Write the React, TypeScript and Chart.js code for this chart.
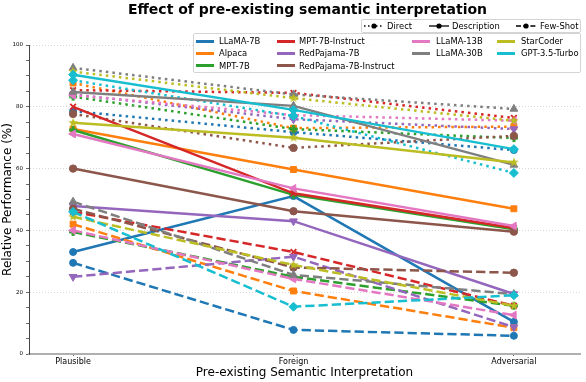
import React, { useEffect, useRef } from 'react';
import { Chart, registerables } from 'chart.js';

Chart.register(...registerables);

const FONT = "'DejaVu Sans', sans-serif";

const conditions = ['Plausible', 'Foreign', 'Adversarial'];
const models = [
  'LLaMA-7B', 'Alpaca', 'MPT-7B', 'MPT-7B-Instruct', 'RedPajama-7B',
  'RedPajama-7B-Instruct', 'LLaMA-13B', 'LLaMA-30B', 'StarCoder', 'GPT-3.5-Turbo',
];
const modelColors = [
  '#1f77b4', '#ff7f0e', '#2ca02c', '#d62728', '#9467bd',
  '#8c564b', '#e377c2', '#7f7f7f', '#bcbd22', '#17becf',
];
const promptStyles = ['Direct', 'Description', 'Few-Shot'];

// values per model: [Plausible, Foreign, Adversarial]
const directScores = [
  [78.6, 71.8, 66.0],
  [87.7, 73.1, 73.6],
  [83.3, 72.8, 69.9],
  [85.4, 84.5, 76.4],
  [84.0, 76.0, 72.8],
  [77.7, 66.7, 70.6],
  [83.8, 77.3, 75.5],
  [92.6, 84.0, 79.3],
  [91.4, 82.8, 75.5],
  [88.6, 77.0, 58.6],
];
const descriptionScores = [
  [33.0, 51.1, 10.4],
  [72.8, 59.7, 47.0],
  [72.5, 51.5, 40.4],
  [80.0, 52.0, 40.8],
  [47.9, 43.0, 19.4],
  [60.0, 46.2, 39.6],
  [71.2, 53.6, 41.4],
  [84.8, 80.3, 61.2],
  [74.8, 70.0, 62.0],
  [90.4, 79.0, 66.3],
];
const fewShotScores = [
  [29.5, 7.8, 5.9],
  [42.0, 20.4, 8.5],
  [39.5, 25.0, 15.6],
  [46.0, 33.0, 15.6],
  [25.0, 31.5, 8.7],
  [47.0, 28.0, 26.3],
  [40.0, 24.3, 12.6],
  [49.3, 25.6, 19.4],
  [44.4, 28.8, 15.6],
  [46.0, 15.3, 19.0],
];
const yTickLabels = [0, 20, 40, 60, 80, 100];

function makeStar(color: string, r: number) {
  const size = Math.ceil(r * 2 + 2);
  const c = document.createElement('canvas');
  c.width = size; c.height = size;
  const ctx = c.getContext('2d')!;
  ctx.fillStyle = color;
  ctx.beginPath();
  for (let k = 0; k < 10; k++) {
    const rr = k % 2 === 0 ? r : r * 0.42;
    const a = -Math.PI / 2 + (k * Math.PI) / 5;
    ctx.lineTo(size / 2 + rr * Math.cos(a), size / 2 + rr * Math.sin(a));
  }
  ctx.closePath();
  ctx.fill();
  return c;
}

function makePlus(color: string, r: number) {
  const size = Math.ceil(r * 2 + 2);
  const c = document.createElement('canvas');
  c.width = size; c.height = size;
  const ctx = c.getContext('2d')!;
  ctx.fillStyle = color;
  const t = r * 0.75;
  const m = size / 2;
  ctx.fillRect(m - r, m - t / 2, 2 * r, t);
  ctx.fillRect(m - t / 2, m - r, t, 2 * r);
  return c;
}

function markerFor(mi: number, color: string) {
  switch (mi) {
    case 0: return { style: 'circle', rotation: 0, radius: 3.5, bw: 1 };
    case 1: return { style: 'rect', rotation: 0, radius: 4.2, bw: 1 };
    case 2: return { style: makePlus(color, 4), rotation: 0, radius: 4, bw: 1 };
    case 3: return { style: 'crossRot', rotation: 0, radius: 4, bw: 1.8 };
    case 4: return { style: 'triangle', rotation: 180, radius: 4.5, bw: 1 };
    case 5: return { style: 'circle', rotation: 0, radius: 3.7, bw: 1 };
    case 6: return { style: 'triangle', rotation: 270, radius: 4.5, bw: 1 };
    case 7: return { style: 'triangle', rotation: 0, radius: 4.5, bw: 1 };
    case 8: return { style: makeStar(color, 5), rotation: 0, radius: 5, bw: 1 };
    default: return { style: 'rectRot', rotation: 0, radius: 4.5, bw: 1 };
  }
}

const dashPatterns = [[2.5, 4.1], [], [9.25, 4]];
const legendDash = ['1.5,2.5', '', '5,2.2'];

export default function App() {
  const ref = useRef<HTMLCanvasElement>(null);

  useEffect(() => {
    const canvas = ref.current!;
    const allScores = [directScores, descriptionScores, fewShotScores];
    const datasets: any[] = [];
    allScores.forEach((scores, si) => {
      models.forEach((m, mi) => {
        const color = modelColors[mi];
        const mk = markerFor(mi, color);
        datasets.push({
          label: `${m} (${promptStyles[si]})`,
          data: scores[mi].map((v, i) => ({ x: i, y: v })),
          borderColor: color,
          backgroundColor: color,
          borderWidth: 2.5,
          borderDash: dashPatterns[si],
          borderCapStyle: 'butt',
          pointStyle: mk.style,
          pointRotation: mk.rotation,
          pointRadius: mk.radius,
          pointBorderWidth: mk.bw,
          pointBackgroundColor: color,
          pointBorderColor: color,
          tension: 0,
          fill: false,
        });
      });
    });
    const n = datasets.length;
    datasets.forEach((d, i) => { d.order = n - i; });

    const chart = new Chart(canvas, {
      type: 'line',
      data: { datasets },
      options: {
        animation: false,
        responsive: false,
        devicePixelRatio: 1,
        layout: { padding: { top: 45, right: 0, bottom: 0, left: 0 } },
        plugins: {
          legend: { display: false },
          tooltip: { enabled: false },
          title: { display: false },
        },
        scales: {
          x: {
            type: 'linear',
            min: -0.2,
            max: 2.3,
            afterBuildTicks: (s: any) => { s.ticks = conditions.map((_, i) => ({ value: i })); },
            ticks: {
              callback: (v: any) => conditions[v] ?? '',
              font: { family: FONT, size: 8 },
              color: '#000',
              padding: 1,
              maxRotation: 0,
              autoSkip: false,
            },
            grid: { drawOnChartArea: false, drawTicks: true, tickLength: 2, tickColor: '#333', tickWidth: 0.8 },
            border: { display: true, color: '#b0b0b0', width: 2 },
            title: {
              display: true,
              text: 'Pre-existing Semantic Interpretation',
              font: { family: FONT, size: 12 },
              color: '#000',
              padding: { top: 0, bottom: 2 },
            },
            afterFit: (s: any) => { s.height = 28; },
          },
          y: {
            min: 0,
            max: 100,
            afterBuildTicks: (s: any) => {
              const t: any[] = [];
              for (let v = 0; v <= 100; v += 5) t.push({ value: v });
              s.ticks = t;
            },
            ticks: {
              callback: (v: any) => (yTickLabels.includes(v) ? String(v) : ''),
              font: { family: FONT, size: 5.5 },
              color: '#000',
              padding: 3,
              autoSkip: false,
            },
            grid: {
              color: (c: any) => (c.tick && c.tick.value % 20 === 0 && c.tick.value > 0 ? '#cccccc' : 'rgba(0,0,0,0)'),
              lineWidth: 0.8,
              tickLength: 3,
              tickColor: '#444',
              tickWidth: 0.8,
            },
            border: { display: true, color: '#444', width: 1, dash: [1, 2] },
            title: {
              display: true,
              text: 'Relative Performance (%)',
              font: { family: FONT, size: 12 },
              color: '#000',
              padding: { top: 1, bottom: 0 },
            },
            afterFit: (s: any) => { s.width = 29; },
          },
        },
      } as any,
    });
    return () => chart.destroy();
  }, []);

  const legendFont = { fontFamily: FONT, fontSize: 8.4, color: '#000', lineHeight: '10px', whiteSpace: 'nowrap' as const };
  const styleItems = [
    { lineX: 3, textX: 26 },
    { lineX: 68, textX: 91 },
    { lineX: 155, textX: 179 },
  ];
  const colX = [
    { lineX: 3, textX: 26 },
    { lineX: 84, textX: 106 },
    { lineX: 219, textX: 243 },
    { lineX: 304, textX: 328 },
  ];
  const rowY = [8, 20.3, 32.6];
  const modelPos = [
    [0, 0], [0, 1], [0, 2],
    [1, 0], [1, 1], [1, 2],
    [2, 0], [2, 1],
    [3, 0], [3, 1],
  ];

  return (
    <div style={{ position: 'absolute', left: 0, top: 0, width: 586, height: 382, background: '#fff', overflow: 'hidden' }}>
      <canvas ref={ref} width={586} height={382} style={{ position: 'absolute', left: 0, top: 0, width: 586, height: 382 }} />
      <div style={{ position: 'absolute', left: 29, width: 557, top: 1, textAlign: 'center', fontFamily: FONT, fontWeight: 'bold', fontSize: 14, lineHeight: '17px', color: '#000' }}>
        Effect of pre-existing semantic interpretation
      </div>
      <div style={{ position: 'absolute', left: 361, top: 19, width: 220, height: 14, boxSizing: 'border-box', border: '1px solid #d4d4d4', borderRadius: 2, background: 'rgba(255,255,255,0.85)' }}>
        {promptStyles.map((s, i) => (
          <React.Fragment key={s}>
            <svg style={{ position: 'absolute', left: styleItems[i].lineX - 1, top: 1 }} width={20} height={10}>
              <line x1={0} y1={5} x2={20} y2={5} stroke="#000" strokeWidth={1.3} strokeDasharray={legendDash[i] || undefined} />
              <circle cx={10} cy={5} r={2.6} fill="#000" />
            </svg>
            <div style={{ position: 'absolute', left: styleItems[i].textX - 1, top: 1, ...legendFont }}>{s}</div>
          </React.Fragment>
        ))}
      </div>
      <div style={{ position: 'absolute', left: 193, top: 33, width: 388, height: 40, boxSizing: 'border-box', border: '1px solid #d4d4d4', borderRadius: 2, background: 'rgba(255,255,255,0.85)' }}>
        {models.map((m, i) => {
          const [c, r] = modelPos[i];
          return (
            <React.Fragment key={m}>
              <div style={{ position: 'absolute', left: colX[c].lineX - 1, top: rowY[r] - 2.5, width: 18, height: 3, background: modelColors[i] }} />
              <div style={{ position: 'absolute', left: colX[c].textX - 1, top: rowY[r] - 6, ...legendFont }}>{m}</div>
            </React.Fragment>
          );
        })}
      </div>
    </div>
  );
}
